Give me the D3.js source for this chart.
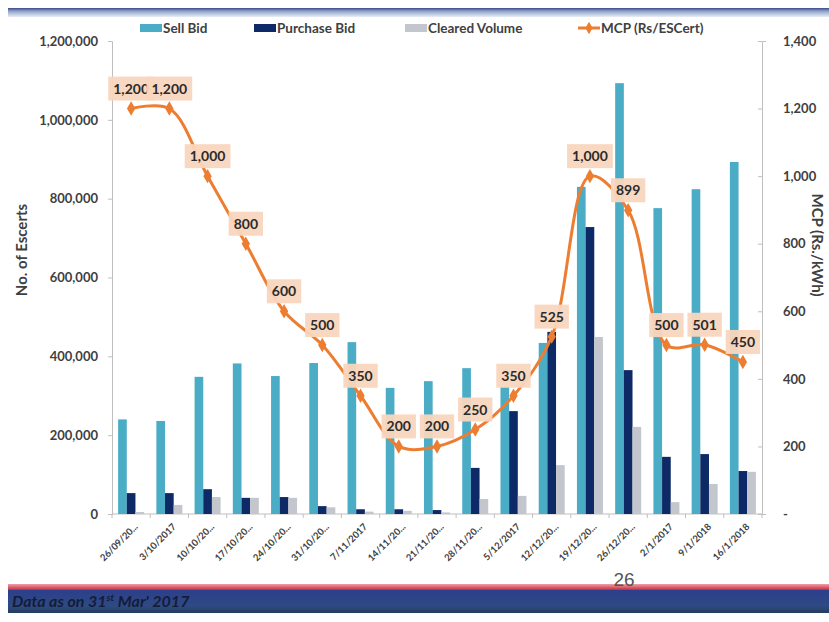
<!DOCTYPE html>
<html>
<head>
<meta charset="utf-8">
<script src="https://cdn.jsdelivr.net/npm/d3@7"></script>
<style>
  html, body { margin: 0; padding: 0; background: #fff; }
  svg { display: block; }
</style>
</head>
<body>
<svg id="chart" width="829" height="622"></svg>
<script>
const categories = ["26/09/20...", "3/10/2017", "10/10/20...", "17/10/20...", "24/10/20...", "31/10/20...", "7/11/2017", "14/11/20...", "21/11/20...", "28/11/20...", "5/12/2017", "12/12/20...", "19/12/20...", "26/12/20...", "2/1/2017", "9/1/2018", "16/1/2018"];
const sellBid     = [240000, 236000, 348000, 382000, 350000, 383000, 436000, 320000, 337000, 370000, 322000, 434000, 830000, 1093000, 776000, 824000, 893000];
const purchaseBid = [53000, 53000, 63000, 41000, 43000, 20000, 12000, 12000, 10000, 117000, 261000, 462000, 728000, 365000, 145000, 152000, 109000];
const clearedVol  = [5000, 23000, 43000, 41000, 41000, 17000, 6000, 8000, 4000, 38000, 46000, 124000, 449000, 221000, 30000, 76000, 107000];
const mcp         = [1200, 1200, 1000, 800, 600, 500, 350, 200, 200, 250, 350, 525, 1000, 899, 500, 501, 450];
const leftTicks   = [0, 200000, 400000, 600000, 800000, 1000000, 1200000];
const rightTicks  = [0, 200, 400, 600, 800, 1000, 1200, 1400];
const seriesNames = ["Sell Bid", "Purchase Bid", "Cleared Volume"];
const lineName    = "MCP (Rs/ESCert)";

const colors = { "Sell Bid": "#4BACC6", "Purchase Bid": "#0E2A66", "Cleared Volume": "#C3C6CD" };
const lineColor = "#ED7D31";
const font = "Lato, 'Open Sans', 'Liberation Sans', sans-serif";
const textColor = "#404040";

const svg = d3.select("#chart");
const L = 112, R = 762, T = 41, B = 514;

// slide decorations
const defs = svg.append("defs");
const gTop = defs.append("linearGradient").attr("id", "gTop").attr("x1", 0).attr("y1", 0).attr("x2", 0).attr("y2", 1);
gTop.append("stop").attr("offset", "0%").attr("stop-color", "#3A4A8C");
gTop.append("stop").attr("offset", "35%").attr("stop-color", "#8FA3C8");
gTop.append("stop").attr("offset", "100%").attr("stop-color", "#E8EEF6");
svg.append("rect").attr("x", 8).attr("y", 8).attr("width", 821).attr("height", 9).attr("fill", "url(#gTop)");

const gRed = defs.append("linearGradient").attr("id", "gRed").attr("x1", 0).attr("y1", 0).attr("x2", 0).attr("y2", 1);
gRed.append("stop").attr("offset", "0%").attr("stop-color", "#F0A0A8");
gRed.append("stop").attr("offset", "100%").attr("stop-color", "#C8283C");
svg.append("rect").attr("x", 8).attr("y", 584).attr("width", 821).attr("height", 6).attr("fill", "url(#gRed)");
const gBlue = defs.append("linearGradient").attr("id", "gBlue").attr("x1", 0).attr("y1", 0).attr("x2", 0).attr("y2", 1);
gBlue.append("stop").attr("offset", "0%").attr("stop-color", "#2C3F8C");
gBlue.append("stop").attr("offset", "70%").attr("stop-color", "#2E4A82");
gBlue.append("stop").attr("offset", "100%").attr("stop-color", "#263C5C");
svg.append("rect").attr("x", 8).attr("y", 590).attr("width", 821).attr("height", 23).attr("fill", "url(#gBlue)");
const foot = svg.append("text").attr("x", 12).attr("y", 607)
  .attr("font-family", font).attr("font-size", 16).attr("font-weight", "bold").attr("font-style", "italic")
  .attr("fill", "#141C3A");
foot.append("tspan").text("Data as on 31");
foot.append("tspan").attr("font-size", 10).attr("dy", -6).text("st");
foot.append("tspan").attr("dy", 6).text(" Mar' 2017");
svg.append("text").attr("x", 624).attr("y", 586).attr("text-anchor", "middle")
  .attr("font-family", "'Liberation Sans', sans-serif").attr("font-size", 19).attr("fill", "#555").text("26");

// scales
const x0 = d3.scaleBand().domain(categories).range([L, R]).paddingInner(0.32).paddingOuter(0.16);
const x1 = d3.scaleBand().domain(seriesNames).range([0, x0.bandwidth()]).padding(0);
const yL = d3.scaleLinear().domain([0, 1200000]).range([B, T]);
const yR = d3.scaleLinear().domain([0, 1400]).range([B, T]);

// axes
const leftAxis = d3.axisLeft(yL).tickValues(leftTicks).tickSize(4).tickPadding(10)
  .tickFormat(d3.format(","));
const gl = svg.append("g").attr("transform", `translate(${L},0)`).call(leftAxis);
gl.select(".domain").attr("stroke", "#BFBFBF");
gl.selectAll(".tick line").attr("stroke", "#BFBFBF");
gl.selectAll(".tick text").attr("font-family", font).attr("font-size", 13).attr("font-weight", "bold").attr("fill", textColor);

const rightAxis = d3.axisRight(yR).tickValues(rightTicks).tickSize(4).tickPadding(17)
  .tickFormat(d => d === 0 ? "-" : d3.format(",")(d));
const gr = svg.append("g").attr("transform", `translate(${R},0)`).call(rightAxis);
gr.select(".domain").attr("stroke", "#BFBFBF");
gr.selectAll(".tick line").attr("stroke", "#BFBFBF").attr("x1", -4).attr("x2", 0);
gr.selectAll(".tick text").attr("font-family", font).attr("font-size", 13).attr("font-weight", "bold").attr("fill", textColor);

// bottom axis
const gb = svg.append("g").attr("transform", `translate(0,${B})`);
gb.append("line").attr("x1", L).attr("x2", R).attr("stroke", "#BFBFBF");
const boundaries = categories.map(c => x0(c) - x0.step() * x0.paddingInner() / 2).concat([R]);
gb.selectAll("line.tk").data(boundaries).join("line").attr("class", "tk")
  .attr("x1", d => d).attr("x2", d => d).attr("y1", 0).attr("y2", 4).attr("stroke", "#BFBFBF");
gb.selectAll("text.xl").data(categories).join("text").attr("class", "xl")
  .attr("transform", d => `translate(${x0(d) + x0.bandwidth() / 2 + 5},${11}) rotate(-45)`)
  .attr("text-anchor", "end").attr("dy", "0.35em")
  .attr("font-family", font).attr("font-size", 9.5).attr("font-weight", "bold").attr("fill", textColor)
  .text(d => d);

// axis titles
svg.append("text").attr("transform", `translate(27,250) rotate(-90)`).attr("text-anchor", "middle")
  .attr("font-family", font).attr("font-size", 15).attr("font-weight", "bold").attr("fill", textColor)
  .text("No. of Escerts");
svg.append("text").attr("transform", `translate(812,245) rotate(90)`).attr("text-anchor", "middle")
  .attr("font-family", font).attr("font-size", 15).attr("font-weight", "bold").attr("fill", textColor)
  .text("MCP (Rs./kWh)");

// bars
const rows = categories.map((c, i) => ({ c, vals: [sellBid[i], purchaseBid[i], clearedVol[i]] }));
const groups = svg.append("g").selectAll("g").data(rows).join("g")
  .attr("transform", d => `translate(${x0(d.c)},0)`);
groups.selectAll("rect").data(d => d.vals.map((v, k) => ({ k: seriesNames[k], v }))).join("rect")
  .attr("x", d => x1(d.k)).attr("width", x1.bandwidth())
  .attr("y", d => yL(d.v)).attr("height", d => B - yL(d.v))
  .attr("fill", d => colors[d.k]);

// line
const pts = categories.map((c, i) => ({ x: x0(c) + x0.bandwidth() / 2, y: yR(mcp[i]), v: mcp[i] }));
const line = d3.line().x(d => d.x).y(d => d.y).curve(d3.curveCatmullRom.alpha(0.5));
svg.append("path").datum(pts).attr("d", line).attr("fill", "none")
  .attr("stroke", lineColor).attr("stroke-width", 3);
svg.append("g").selectAll("path").data(pts).join("path")
  .attr("d", d3.symbol().type(d3.symbolDiamond).size(60))
  .attr("transform", d => `translate(${d.x},${d.y})`).attr("fill", lineColor);

// data labels
const lab = svg.append("g").selectAll("g").data(pts).join("g")
  .attr("transform", d => `translate(${d.x},${d.y - 20})`);
lab.each(function (d) {
  const g = d3.select(this);
  const t = d3.format(",")(d.v);
  const rect = g.append("rect").attr("fill", "#F9D6BE").attr("opacity", 0.95);
  const txt = g.append("text").attr("text-anchor", "middle").attr("dy", "0.36em")
    .attr("font-family", font).attr("font-size", 14).attr("font-weight", "bold").attr("fill", "#2B2B2B").text(t);
  const w = txt.node().getComputedTextLength() + 10;
  rect.attr("x", -w / 2).attr("y", -12).attr("width", w).attr("height", 24);
});

// legend
const legend = svg.append("g").attr("font-family", font).attr("font-size", 13.5).attr("font-weight", "bold").attr("fill", textColor);
const legItems = [
  { name: "Sell Bid", x: 140, type: "rect" },
  { name: "Purchase Bid", x: 254, type: "rect" },
  { name: "Cleared Volume", x: 405, type: "rect" },
  { name: lineName, x: 578, type: "line" }
];
legItems.forEach(it => {
  if (it.type === "rect") {
    legend.append("rect").attr("x", it.x).attr("y", 24).attr("width", 22).attr("height", 8).attr("fill", colors[it.name]);
  } else {
    legend.append("line").attr("x1", it.x).attr("x2", it.x + 22).attr("y1", 28).attr("y2", 28).attr("stroke", lineColor).attr("stroke-width", 3);
    legend.append("path").attr("d", d3.symbol().type(d3.symbolDiamond).size(45)).attr("transform", `translate(${it.x + 11},28)`).attr("fill", lineColor);
  }
  legend.append("text").attr("x", it.x + 23).attr("y", 28).attr("dy", "0.35em").text(it.name);
});
</script>
</body>
</html>
